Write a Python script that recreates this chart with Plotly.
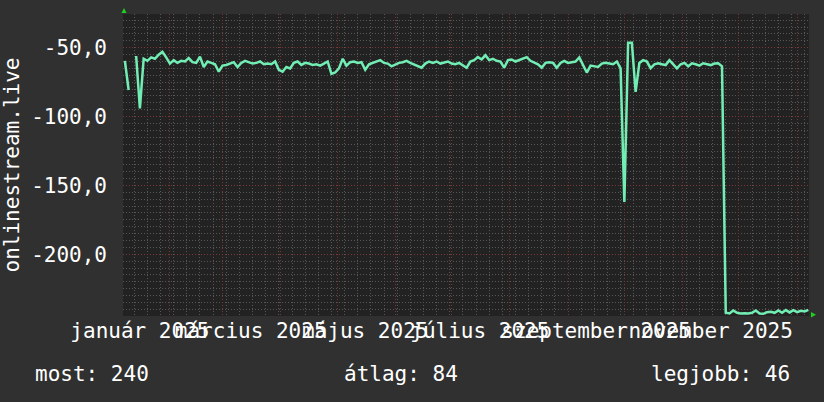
import pandas as pd
import plotly.graph_objects as go

# --- data (2-day samples, value in the graph's units) ---
START = "2025-01-08"
STEP = "2D"
VALUES = [
    -59.5, -80.7, None, -56, -94, -58, -59.5, -57, -58, -55,
    -53, -57, -61.5, -59, -61, -59.5, -60, -57.5, -60.5, -61,
    -56.5, -64, -60, -61, -62, -67.4, -63, -62.5, -61.5, -60.5,
    -64, -61, -59.5, -60.5, -61.5, -61, -60, -62, -61.5, -62,
    -60, -66, -67.4, -64, -65, -61, -60, -62.5, -61, -61.5,
    -62.5, -62, -63, -61.5, -60, -69, -68, -65, -58, -63,
    -60.5, -60, -61, -60.5, -66, -62, -61, -60.5, -59, -61,
    -61.5, -63.5, -62, -61, -60.5, -59.5, -61, -62, -63, -64.5,
    -61.5, -60, -61, -60, -61.5, -60.5, -60, -61.5, -62, -61,
    -63, -64.5, -60, -59, -56.8, -58.5, -55.5, -59, -58, -59.5,
    -60, -64.5, -59, -58.5, -60, -59, -58, -56.8, -59.5, -61,
    -62, -64.5, -61, -60.5, -61, -64.5, -61, -59.5, -61, -60.5,
    -60, -57, -62.5, -68, -63, -63.5, -64, -61.5, -61, -61.5,
    -62, -60, -65, -162, -46.4, -46.4, -82, -61, -59, -60,
    -64.8, -62, -61.3, -62, -62.6, -59, -62, -65, -62, -61,
    -63.5, -61.3, -62, -63, -61.3, -62, -62.6, -61.5, -61.3, -63.5,
    -242.5, -243, -240.8, -242.5, -243, -242.8, -243, -242.5, -240.8, -243,
    -243.2, -242, -241.8, -242.5, -240.8, -242.5, -240.5, -242.2, -240.6, -242,
    -241, -241.5, -240.3,
]
X_LABEL_DATES = ["2025-01-16", "2025-03-16", "2025-05-16", "2025-07-16", "2025-09-16", "2025-11-16"]
X_LABEL_TEXT = ["január 2025", "március 2025", "május 2025", "július 2025", "szeptember 2025", "november 2025"]
Y_TICKS = [-50, -100, -150, -200]
Y_TICK_TEXT = ["-50,0", "-100,0", "-150,0", "-200,0"]
SERIES_NAME = "onlinestream.live"
STATS = ["most: 240", "átlag: 84", "legjobb: 46"]

# rrdtool-ish colours
FONT = "DejaVu Sans Mono"
FONT_SIZE = 21
BACK = "#303030"
CANVAS = "#222222"
GRID = "#575757"
MGRID = "#7c3636"
LINE = "#72eeb4"
ARROW = "#1fd01f"
DOTS = "1px,2px"

dates = pd.date_range(START, periods=len(VALUES), freq=STEP)
x_range = ["2025-01-07", "2026-01-07 08:00"]

fig = go.Figure()
fig.add_trace(go.Scatter(
    x=dates, y=VALUES, mode="lines",
    line=dict(color=LINE, width=2.5),
    hoverinfo="skip", showlegend=False,
))
# empty helper so the label axis gets drawn
fig.add_trace(go.Scatter(
    x=X_LABEL_DATES, y=[None] * len(X_LABEL_DATES), xaxis="x2",
    mode="lines", hoverinfo="skip", showlegend=False,
))

fig.update_layout(
    width=824, height=402,
    margin=dict(l=123, r=15, t=14, b=86),
    paper_bgcolor=BACK, plot_bgcolor=CANVAS,
    font=dict(family=FONT, size=FONT_SIZE, color="#ffffff"),
    showlegend=False,
    # grid axis: month lines red, week lines grey
    xaxis=dict(
        type="date", range=x_range, automargin=False,
        tickmode="linear", tick0="2025-02-01", dtick="M1",
        showticklabels=False, ticks="",
        showgrid=True, gridcolor=MGRID, griddash=DOTS, gridwidth=1,
        minor=dict(tick0="2025-01-06", dtick=7 * 86400000, showgrid=True,
                   gridcolor=GRID, griddash=DOTS, gridwidth=1),
        zeroline=False, showline=False,
    ),
    # label axis: month names centred mid-month (they overlap, as in rrdtool)
    xaxis2=dict(
        type="date", range=x_range, overlaying="x", anchor="y", side="bottom",
        automargin=False, tickangle=0,
        tickmode="array", tickvals=X_LABEL_DATES, ticktext=X_LABEL_TEXT,
        showgrid=False, ticks="", zeroline=False, showline=False,
        ticklabelstandoff=0,
    ),
    yaxis=dict(
        range=[-244.8, -25.5], automargin=False,
        tickmode="array", tickvals=Y_TICKS, ticktext=Y_TICK_TEXT,
        showgrid=True, gridcolor=MGRID, griddash=DOTS, gridwidth=1,
        minor=dict(tick0=0, dtick=5, showgrid=True, gridcolor=GRID,
                   griddash=DOTS, gridwidth=1),
        ticks="", ticklabelstandoff=15,
        zeroline=False, showline=False,
        title=dict(text=SERIES_NAME, standoff=16, font=dict(size=FONT_SIZE)),
    ),
)

# footer statistics
fig.add_annotation(text=STATS[0], xref="paper", yref="paper", x=-0.131, y=-0.192,
                   xanchor="left", yanchor="middle", showarrow=False)
fig.add_annotation(text=STATS[1], xref="paper", yref="paper", x=0.319, y=-0.192,
                   xanchor="left", yanchor="middle", showarrow=False)
fig.add_annotation(text=STATS[2], xref="paper", yref="paper", x=0.975, y=-0.192,
                   xanchor="right", yanchor="middle", showarrow=False)

# axis arrows
fig.add_shape(type="path", xref="paper", yref="paper", xsizemode="pixel", ysizemode="pixel",
              xanchor=0, yanchor=1, path="M -1.5,1 L 3.5,1 L 1,6 Z",
              fillcolor=ARROW, line=dict(width=0))
fig.add_shape(type="path", xref="paper", yref="paper", xsizemode="pixel", ysizemode="pixel",
              xanchor=1, yanchor=0, path="M 2,4 L 2,-1.5 L 7,1.3 Z",
              fillcolor=ARROW, line=dict(width=0))

# page body has an 8px default margin; drop it so the chart sits at 0,0
fig.write_html("out.html", config={"displayModeBar": False},
               post_script="document.body.style.margin='0';")
